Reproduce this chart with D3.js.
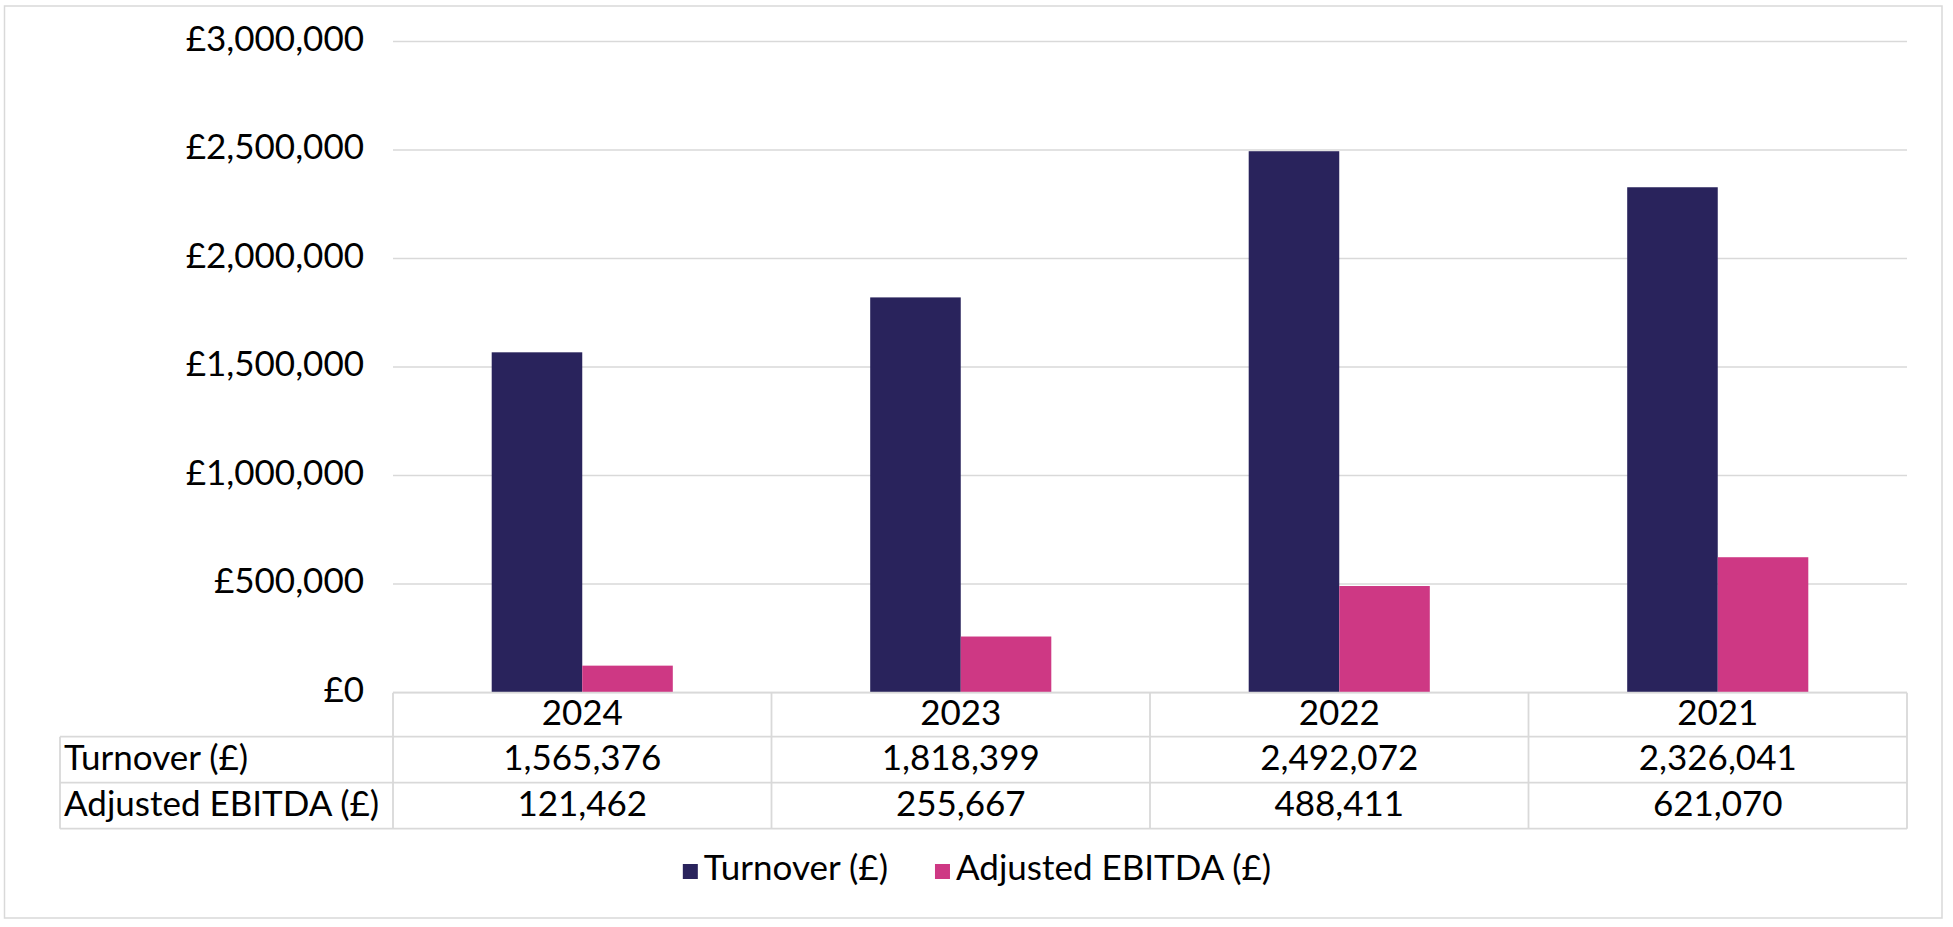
<!DOCTYPE html>
<html>
<head>
<meta charset="utf-8">
<script src="https://cdn.jsdelivr.net/npm/d3@7"></script>
<style>
  html, body { margin: 0; padding: 0; background: #fff; }
  svg { display: block; font-family: Lato, "Open Sans", sans-serif; }
</style>
</head>
<body>
<script>
// data
const years = ["2024", "2023", "2022", "2021"]
const seriesNames = ["Turnover (£)", "Adjusted EBITDA (£)"]
const turnover = [1565376, 1818399, 2492072, 2326041]
const ebitda = [121462, 255667, 488411, 621070]
const yTicks = [0, 500000, 1000000, 1500000, 2000000, 2500000, 3000000]

const colors = ["#29235c", "#ce3884"]
const grey = "#d9d9d9"
const fontSize = 35

let svg = d3.select("body")
            .append("svg")
            .attr("width", 1953)
            .attr("height", 927)

// outer chart border
svg.append("rect")
   .attr("x", 4.5).attr("y", 6)
   .attr("width", 1937.5).attr("height", 912)
   .attr("fill", "none")
   .attr("stroke", grey)
   .attr("stroke-width", 1.5)

let plotLeft = 393, plotRight = 1907
let y = d3.scaleLinear()
          .domain([0, 3000000])
          .range([692, 41])

let x = d3.scaleBand()
          .domain(years)
          .range([plotLeft, plotRight])

// two bars per year, gap of about 109% each side
let xInner = d3.scaleBand()
               .domain(seriesNames)
               .range([0, x.bandwidth()])
               .paddingInner(0)
               .paddingOuter(1.09)

let fmt = d3.format(",")

// gridlines + y labels
let yAxis = d3.axisLeft(y)
              .tickValues(yTicks)
              .tickSize(-(plotRight - plotLeft))
              .tickPadding(29)
              .tickFormat(d => "£" + fmt(d))

let gy = svg.append("g")
            .attr("transform", `translate(${plotLeft}, 0)`)
            .call(yAxis)
gy.select(".domain").remove()
gy.selectAll(".tick line").attr("stroke", grey).attr("stroke-width", 1.5)
gy.selectAll(".tick text")
  .attr("fill", "#000")
  .attr("font-size", fontSize)
  .attr("font-family", "Lato")
  .attr("dy", "0.26em")

// bars
let rows = years.map((yr, i) => ({ year: yr, values: [turnover[i], ebitda[i]] }))

let groups = svg.selectAll(".year")
                .data(rows)
                .enter()
                .append("g")
                .attr("transform", d => `translate(${x(d.year)}, 0)`)

groups.selectAll("rect")
      .data(d => d.values.map((v, j) => ({ name: seriesNames[j], value: v, j: j })))
      .enter()
      .append("rect")
      .attr("x", d => xInner(d.name))
      .attr("width", xInner.bandwidth())
      .attr("y", d => y(d.value))
      .attr("height", d => y(0) - y(d.value))
      .attr("fill", d => colors[d.j])

// data table under the plot
let rowLines = [692.7, 736.7, 782.7, 828.7]
let tableLeft = 60
let table = svg.append("g")
               .attr("stroke", grey)
               .attr("stroke-width", 1.8)

table.append("line")
     .attr("x1", plotLeft).attr("x2", plotRight)
     .attr("y1", rowLines[0]).attr("y2", rowLines[0])
rowLines.slice(1).forEach(ly => {
  table.append("line")
       .attr("x1", tableLeft).attr("x2", plotRight)
       .attr("y1", ly).attr("y2", ly)
})
// vertical lines
table.append("line")
     .attr("x1", tableLeft).attr("x2", tableLeft)
     .attr("y1", rowLines[1]).attr("y2", rowLines[3])
years.forEach(yr => {
  table.append("line")
       .attr("x1", x(yr)).attr("x2", x(yr))
       .attr("y1", rowLines[0]).attr("y2", rowLines[3])
})
table.append("line")
     .attr("x1", plotRight).attr("x2", plotRight)
     .attr("y1", rowLines[0]).attr("y2", rowLines[3])

let baselines = [725, 770, 816]
let cellText = svg.append("g")
                  .attr("font-size", fontSize)
                  .attr("fill", "#000")

years.forEach((yr, i) => {
  let cx = x(yr) + x.bandwidth() / 2
  cellText.append("text").attr("x", cx).attr("y", baselines[0])
          .attr("text-anchor", "middle").text(yr)
  cellText.append("text").attr("x", cx).attr("y", baselines[1])
          .attr("text-anchor", "middle").text(fmt(turnover[i]))
  cellText.append("text").attr("x", cx).attr("y", baselines[2])
          .attr("text-anchor", "middle").text(fmt(ebitda[i]))
})
seriesNames.forEach((name, j) => {
  cellText.append("text").attr("x", 64).attr("y", baselines[j + 1]).text(name)
})

// legend, centred in the chart
let legend = svg.append("g").attr("font-size", fontSize)
let items = legend.selectAll("g")
                  .data(seriesNames)
                  .enter()
                  .append("g")
items.append("rect")
     .attr("width", 15).attr("height", 15)
     .attr("y", 864)
     .attr("fill", (d, i) => colors[i])
items.append("text")
     .attr("x", 21).attr("y", 880)
     .attr("fill", "#000")
     .text(d => d)

let widths = []
items.each(function() { widths.push(21 + this.querySelector("text").getComputedTextLength()) })
let gap = 47
let total = d3.sum(widths) + gap * (widths.length - 1)
let start = 977 - total / 2
let offs = 0
items.attr("transform", (d, i) => {
  let t = `translate(${start + offs}, 0)`
  offs += widths[i] + gap
  return t
})
</script>
</body>
</html>
